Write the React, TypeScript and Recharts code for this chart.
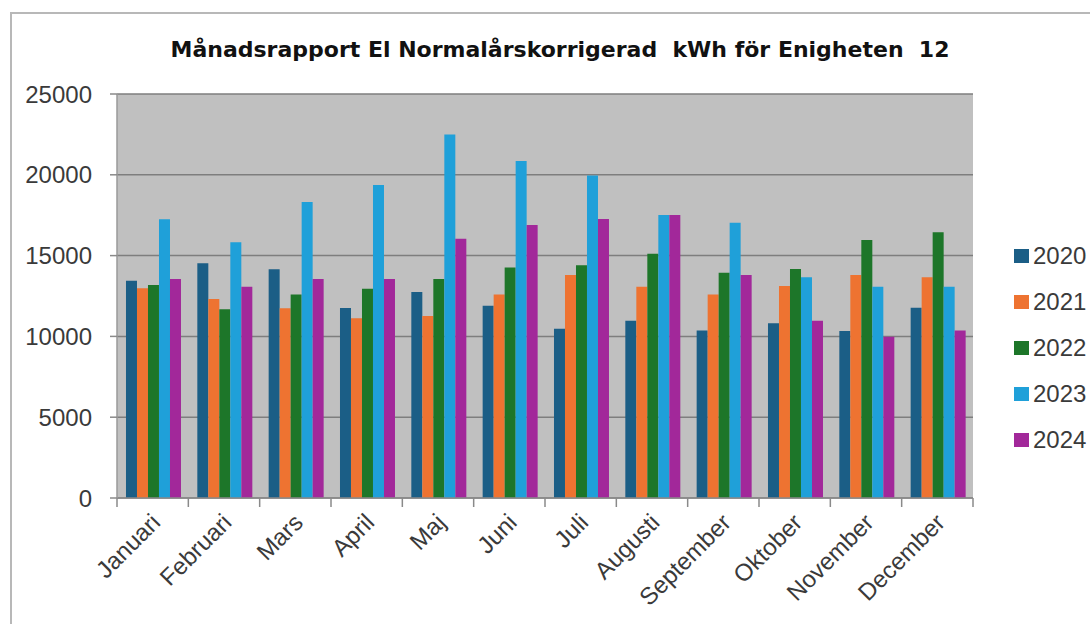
import { BarChart, Bar, XAxis, YAxis, CartesianGrid, Legend } from 'recharts';

const months = ['Januari', 'Februari', 'Mars', 'April', 'Maj', 'Juni', 'Juli', 'Augusti', 'September', 'Oktober', 'November', 'December'];

const y2020 = [13450, 14520, 14150, 11760, 12750, 11900, 10480, 10970, 10360, 10810, 10330, 11780];
const y2021 = [12980, 12320, 11740, 11120, 11260, 12600, 13800, 13080, 12600, 13120, 13800, 13660];
const y2022 = [13180, 11680, 12600, 12950, 13550, 14270, 14400, 15120, 13940, 14170, 15970, 16440];
const y2023 = [17250, 15820, 18320, 19370, 22500, 20850, 19950, 17510, 17040, 13660, 13080, 13080];
const y2024 = [13550, 13080, 13550, 13550, 16050, 16890, 17270, 17510, 13800, 10970, 9980, 10360];

const yTicks = [0, 5000, 10000, 15000, 20000, 25000];

const SERIES = [
  { key: '2020', values: y2020, color: '#1b5e86' },
  { key: '2021', values: y2021, color: '#ee7331' },
  { key: '2022', values: y2022, color: '#1d7629' },
  { key: '2023', values: y2023, color: '#1fa0d9' },
  { key: '2024', values: y2024, color: '#a2289a' },
];

const data = months.map((month, i) => {
  const row: Record<string, string | number> = { month };
  SERIES.forEach(s => { row[s.key] = s.values[i]; });
  return row;
});

const AXIS_FONT = '"Liberation Sans", Arial, sans-serif';

function MonthTick(props: any) {
  const { x, y, payload, index, width, visibleTicksCount } = props;
  const band = width / visibleTicksCount;
  const left = x - band / 2;
  return (
    <g>
      <line x1={left} y1={y} x2={left} y2={y + 9} stroke="#8a8a8a" strokeWidth={1.5} />
      {index === visibleTicksCount - 1 && (
        <line x1={x + band / 2} y1={y} x2={x + band / 2} y2={y + 9} stroke="#8a8a8a" strokeWidth={1.5} />
      )}
      <g transform={`translate(${x - 3},${y + 14})`}>
        <text
          transform="rotate(-45)"
          textAnchor="end"
          dy="0.71em"
          fontSize={24}
          fontFamily={AXIS_FONT}
          fill="#3a3a3a"
        >
          {payload.value}
        </text>
      </g>
    </g>
  );
}

function YearLegend() {
  return (
    <div style={{ width: 100, paddingLeft: 41, boxSizing: 'border-box' }}>
      {SERIES.map(s => (
        <div key={s.key} style={{ display: 'flex', alignItems: 'center', height: 46 }}>
          <span style={{ width: 15, height: 14, flexShrink: 0, background: s.color, display: 'inline-block', marginRight: 4 }} />
          <span style={{ fontSize: 24, fontFamily: AXIS_FONT, color: '#3a3a3a', lineHeight: '24px', whiteSpace: 'nowrap' }}>{s.key}</span>
        </div>
      ))}
    </div>
  );
}

export default function App() {
  return (
    <div style={{ position: 'absolute', left: 0, top: 0, width: 1090, height: 624, background: '#fff', overflow: 'hidden' }}>
      <div
        style={{
          position: 'absolute', left: 10, top: 12, width: 1100, height: 640,
          borderLeft: '2px solid #b8b8b8', borderTop: '2px solid #b8b8b8',
        }}
      />
      <div
        style={{
          position: 'absolute', left: 60, top: 37, width: 1000, textAlign: 'center',
          fontFamily: '"DejaVu Sans", sans-serif',
          fontWeight: 'bold', fontSize: 22, color: '#111', lineHeight: '26px', whiteSpace: 'nowrap',
        }}
      >
        Månadsrapport El Normalårskorrigerad&nbsp; kWh för Enigheten&nbsp; 12
      </div>
      <div style={{ position: 'absolute', left: 0, top: 0 }}>
        <BarChart
          width={1090}
          height={624}
          data={data}
          margin={{ top: 94, right: 17, bottom: 0, left: 0 }}
          barGap={0}
          barCategoryGap="12.6%"
        >
          <CartesianGrid vertical={false} fill="#c0c0c0" stroke="#7e7e7e" strokeWidth={1.5} fillOpacity={1} />
          <XAxis
            dataKey="month"
            height={126}
            interval={0}
            tickSize={0}
            tickMargin={0}
            axisLine={{ stroke: '#8a8a8a', strokeWidth: 1.5 }}
            tickLine={false}
            tick={<MonthTick />}
          />
          <YAxis
            width={117}
            domain={[0, 25000]}
            ticks={yTicks}
            interval={0}
            tickSize={7}
            tickMargin={18}
            axisLine={{ stroke: '#9a9a9a', strokeWidth: 1.5 }}
            tickLine={{ stroke: '#8a8a8a', strokeWidth: 1.5 }}
            tick={{ fontSize: 24, fontFamily: AXIS_FONT, fill: '#3a3a3a' }}
          />
          <Legend
            layout="vertical"
            align="right"
            verticalAlign="middle"
            content={<YearLegend />}
            wrapperStyle={{ top: 233, right: 17 }}
          />
          {SERIES.map(s => (
            <Bar key={s.key} dataKey={s.key} fill={s.color} isAnimationActive={false} />
          ))}
        </BarChart>
      </div>
    </div>
  );
}
